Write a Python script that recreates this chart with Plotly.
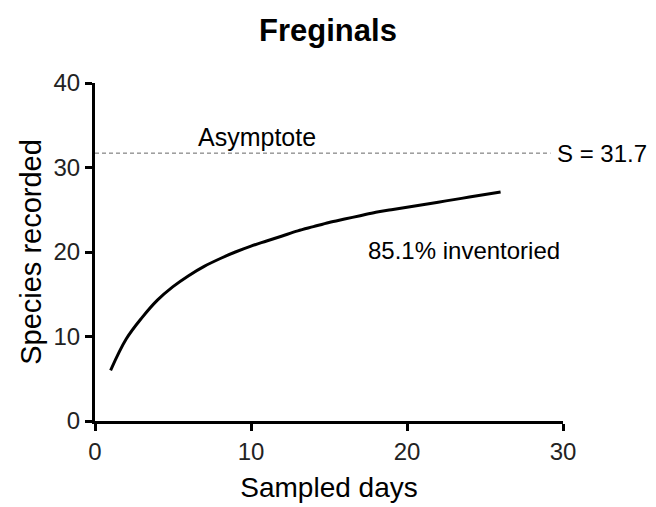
import plotly.graph_objects as go

days = list(range(1, 27))
species = [6.0, 9.7, 12.2, 14.3, 15.9, 17.2, 18.3, 19.2, 20.0, 20.7,
           21.3, 21.9, 22.5, 23.0, 23.5, 23.9, 24.3, 24.7, 25.0, 25.3,
           25.6, 25.9, 26.2, 26.5, 26.8, 27.1]
asymptote = 31.7
asym_x = [0, 29.2]
x_ticks = [0, 10, 20, 30]
y_ticks = [0, 10, 20, 30, 40]

FONT = "Liberation Sans, Arial, sans-serif"

fig = go.Figure()
fig.add_trace(go.Scatter(x=asym_x, y=[asymptote, asymptote], mode="lines",
                         line=dict(color="#666666", width=1, dash="4px,3px"),
                         showlegend=False, hoverinfo="skip"))
fig.add_trace(go.Scatter(x=days, y=species, mode="lines",
                         line=dict(color="black", width=3, shape="spline"),
                         showlegend=False))

fig.add_annotation(x=6.5, y=asymptote, text="Asymptote", showarrow=False,
                   xanchor="left", yanchor="bottom", yshift=0,
                   font=dict(family=FONT, size=25, color="black"))
fig.add_annotation(x=29.5, y=asymptote, text=f"S = {asymptote}", showarrow=False,
                   xanchor="left", yanchor="middle",
                   font=dict(family=FONT, size=24, color="black"))
fig.add_annotation(x=17.4, y=20.2, text="85.1% inventoried", showarrow=False,
                   xanchor="left", yanchor="middle",
                   font=dict(family=FONT, size=24, color="black"))

axis_common = dict(showline=True, linewidth=3, linecolor="black",
                   ticks="outside", ticklen=7, tickwidth=3, tickcolor="black",
                   showgrid=False, zeroline=False, mirror=False, automargin=False,
                   tickfont=dict(family=FONT, size=24, color="#222222"))

fig.update_layout(
    width=656, height=507,
    margin=dict(l=95, r=93, t=83, b=86),
    paper_bgcolor="white", plot_bgcolor="white",
    title=dict(text="<b>Freginals</b>", x=0.5, xanchor="center", y=0.94, yanchor="middle",
               font=dict(family=FONT, size=31, color="black")),
    xaxis=dict(range=[0, 30], tickvals=x_ticks,
               title=dict(text="Sampled days", standoff=14,
                          font=dict(family=FONT, size=28, color="black")),
               **axis_common),
    yaxis=dict(range=[0, 40], tickvals=y_ticks,
               title=dict(text="Species recorded", standoff=4,
                          font=dict(family=FONT, size=29, color="black")),
               **axis_common),
)

fig.write_html("out.html")
